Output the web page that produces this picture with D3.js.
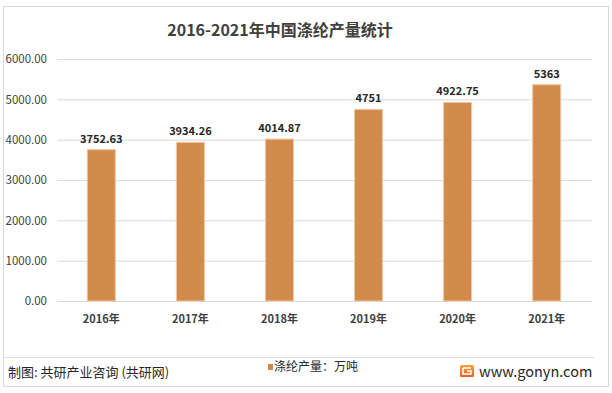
<!DOCTYPE html>
<html><head><meta charset="utf-8">
<script src="https://cdn.jsdelivr.net/npm/d3@7/dist/d3.min.js"></script>
<style>body{margin:0;background:#fff}svg{display:block}text{font-family:"Noto Sans CJK SC","Microsoft YaHei",sans-serif}</style>
</head><body><svg id="c" width="612" height="393"></svg>
<script>
const categories = ["2016年","2017年","2018年","2019年","2020年","2021年"];
const values = [3752.63, 3934.26, 4014.87, 4751, 4922.75, 5363];
const valueLabels = ["3752.63","3934.26","4014.87","4751","4922.75","5363"];
const yTicks = [0,1000,2000,3000,4000,5000,6000];
const title = "2016-2021年中国涤纶产量统计";
const legendLabel = "涤纶产量：万吨";
const source = "制图: 共研产业咨询 (共研网)";
const site = "www.gonyn.com";

const svg = d3.select("#c");
svg.append("rect").attr("x",3.5).attr("y",6.5).attr("width",605).attr("height",380)
  .attr("fill","#fff").attr("stroke","#d9d9d9");

const x = d3.scaleBand().domain(categories).range([57,591]).paddingInner(0.685).paddingOuter(0.34);
const y = d3.scaleLinear().domain([0,6000]).range([301,59]);

// gridlines
svg.append("g").selectAll("line").data(yTicks).join("line")
  .attr("x1",57).attr("x2",592).attr("y1",d=>y(d)+0.5).attr("y2",d=>y(d)+0.5)
  .attr("stroke","#d9d9d9").attr("stroke-width",1);

// y axis labels
const yAxis = d3.axisLeft(y).tickValues(yTicks).tickFormat(d3.format(".2f")).tickSize(0).tickPadding(0);
const ya = svg.append("g").attr("transform","translate(47,0)").call(yAxis);
ya.select(".domain").remove();
ya.selectAll("text").attr("font-size",11.5).attr("fill","#404040").attr("font-family","'Noto Sans CJK SC',sans-serif");

// x axis labels
const xAxis = d3.axisBottom(x).tickSize(0).tickPadding(0);
const xa = svg.append("g").attr("transform","translate(0,315)").call(xAxis);
xa.select(".domain").remove();
xa.selectAll("text").attr("font-size",11).attr("fill","#404040").attr("font-weight","bold").attr("font-family","'Noto Sans CJK SC',sans-serif");

// bars
svg.append("g").selectAll("rect").data(values).join("rect")
  .attr("x",(d,i)=>x(categories[i])).attr("width",x.bandwidth())
  .attr("y",d=>y(d)).attr("height",d=>y(0)-y(d))
  .attr("fill","#d38b4d").attr("stroke","#f0c8a4").attr("stroke-width",1);

// value labels
svg.append("g").selectAll("text").data(values).join("text")
  .attr("x",(d,i)=>x(categories[i])+x.bandwidth()/2).attr("y",d=>y(d)-7)
  .attr("text-anchor","middle").attr("font-size",11).attr("font-weight","bold").attr("fill","#262626")
  .text((d,i)=>valueLabels[i]);

// title
svg.append("text").attr("x",280).attr("y",36).attr("text-anchor","middle")
  .attr("font-size",16).attr("font-weight","bold").attr("fill","#404040").text(title);

// footer
svg.append("line").attr("x1",4).attr("x2",594).attr("y1",357.5).attr("y2",357.5).attr("stroke","#e0e0e0");
svg.append("text").attr("x",8).attr("y",377).attr("font-size",13).attr("fill","#262626").text(source);
svg.append("rect").attr("x",268).attr("y",364).attr("width",5).attr("height",6).attr("fill","#d38b4d");
svg.append("text").attr("x",274).attr("y",371).attr("font-size",12).attr("fill","#262626").text(legendLabel);

// logo
const defs = svg.append("defs");
const lg = defs.append("linearGradient").attr("id","lg").attr("x1",0).attr("y1",0).attr("x2",0).attr("y2",1);
lg.append("stop").attr("offset",0).attr("stop-color","#f7a23a");
lg.append("stop").attr("offset",1).attr("stop-color","#ef5a2a");
svg.append("rect").attr("x",460).attr("y",365).attr("width",14).attr("height",12).attr("rx",1.5).attr("fill","url(#lg)");
svg.append("path").attr("d","M463,368 h8 M463,368 v6 h8 v-3 h-4").attr("fill","none").attr("stroke","#fff").attr("stroke-width",1.6);
svg.append("text").attr("x",479).attr("y",377).attr("font-size",14.5).attr("fill","#262626")
  .attr("font-family","'Open Sans','Noto Sans',sans-serif").text(site);
</script></body></html>
